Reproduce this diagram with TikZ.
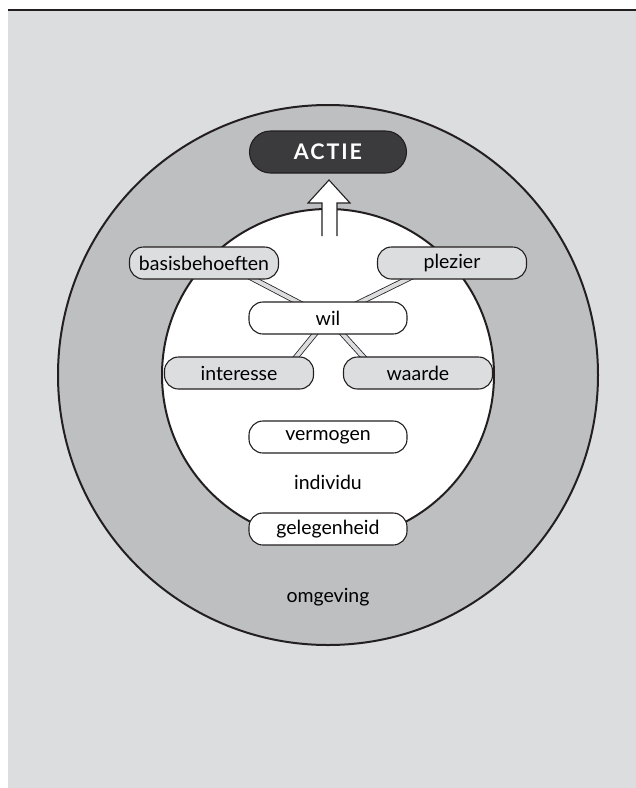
\documentclass[tikz,border=0pt]{standalone}
\usepackage{fontspec}
\setmainfont{Lato}
\usetikzlibrary{calc}
\definecolor{panel}{HTML}{DCDDDF}
\definecolor{ring}{HTML}{BEBFC1}
\definecolor{boxgrey}{HTML}{DCDDDF}
\definecolor{ink}{HTML}{231F20}
\definecolor{darkbox}{HTML}{3B3B3D}
\pgfdeclarelayer{bg}
\pgfdeclarelayer{links}
\pgfsetlayers{bg,links,main}
\begin{document}
\begin{tikzpicture}[x=1pt,y=-1pt,
  pill/.style={draw=ink, line width=1.1pt, rounded corners=14pt, minimum height=32pt, inner sep=0pt, font=\fontsize{19.5}{20}\selectfont},
  greypill/.style={pill, fill=boxgrey, minimum width=149pt},
  whitepill/.style={pill, fill=white, minimum width=158pt},
  strip/.style={draw=ink, line width=0.8pt, double=boxgrey, double distance=4pt},
  label/.style={font=\fontsize{19.5}{20}\selectfont, inner sep=0pt}
]
\useasboundingbox (0,0) rectangle (636,788);
\begin{pgfonlayer}{bg}
\fill[panel] (8,10) rectangle (636,788);
\draw[ink, line width=2.5pt] (8,10) -- (636,10);
\node[circle, draw=ink, fill=ring, line width=2pt, minimum size=540pt, inner sep=0pt] (outer) at (328,375) {};
\node[circle, draw=ink, fill=white, line width=2pt, minimum size=332pt, inner sep=0pt] (inner) at (328,375) {};
\end{pgfonlayer}

\node[draw=ink, fill=darkbox, line width=1.1pt, rounded corners=21pt, minimum width=157pt, minimum height=42pt, inner sep=0pt, text=white, font=\fontsize{21.5}{23}\selectfont\bfseries\addfontfeature{LetterSpace=9}] (actie) at (328,152) {ACTIE};

\coordinate (atip) at (329,180);
\draw[ink, fill=white, line width=1.1pt, line join=miter] (322,236) -- (322,203) -- (308,203) -- (atip) -- (350,203) -- (337,203) -- (337,236);

\node[greypill] (basis) at (204,263) {basisbehoeften};
\node[greypill] (plezier) at (452,263) {plezier};
\node[whitepill] (wil) at (328,318) {wil};
\node[greypill] (interesse) at (239,373) {interesse};
\node[greypill] (waarde) at (418,373) {waarde};
\node[whitepill] (vermogen) at (328,437) {vermogen};
\node[label] (individu) at (328,482) {individu};
\node[whitepill] (gelegenheid) at (328,529) {gelegenheid};
\node[label] (omgeving) at (328,597) {omgeving};

\coordinate (bbend) at (223,263);
\coordinate (plend) at (440,263);
\coordinate (inend) at (283,373);
\coordinate (waend) at (378,373);
\begin{pgfonlayer}{links}
\draw[strip] (wil.center) -- (bbend);
\draw[strip] (wil.center) -- (plend);
\draw[strip] (wil.center) -- (inend);
\draw[strip] (wil.center) -- (waend);
\end{pgfonlayer}
\end{tikzpicture}
\end{document}
